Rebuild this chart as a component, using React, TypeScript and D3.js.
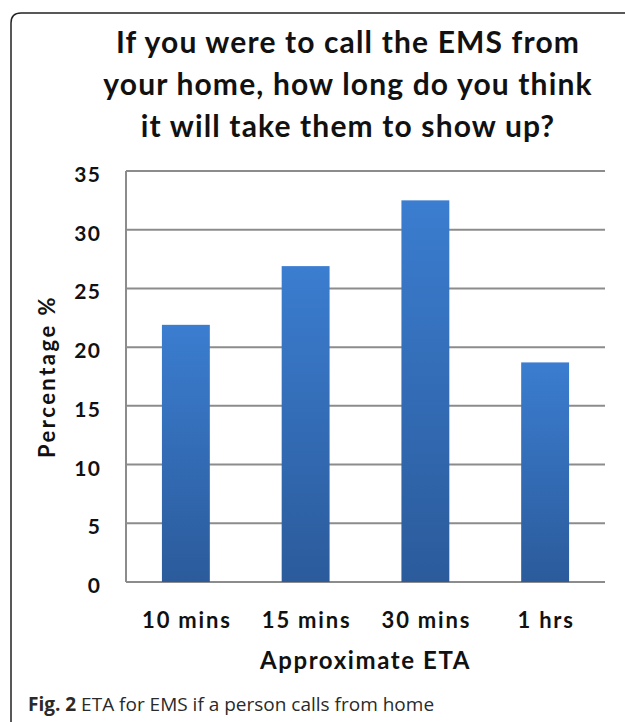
import { useEffect, useRef } from 'react'
import * as d3 from 'd3'

const categories = ['10 mins', '15 mins', '30 mins', '1 hrs']
const percentages = [21.9, 26.9, 32.5, 18.7]
const yTicks = [0, 5, 10, 15, 20, 25, 30, 35]
const titleLines = [
    'If you were to call the EMS from',
    'your home, how long do you think',
    'it will take them to show up?',
]

const W = 625
const H = 722

export default function App() {
    const ref = useRef<SVGSVGElement>(null)

    useEffect(() => {
        draw()
    })

    const draw = () => {
        const svg = d3.select(ref.current)
        svg.selectAll('*').remove()

        const left = 126, right = 605, top = 171, bottom = 582
        const font = 'Lato, "Open Sans", sans-serif'

        // frame (runs off the right and bottom edges like the scan)
        svg.append('path')
            .attr('d', `M${W + 5},13 H21 Q11,13 11,23 V${H + 10}`)
            .attr('fill', 'none')
            .attr('stroke', '#222')
            .attr('stroke-width', 1.5)

        const defs = svg.append('defs')
        const grad = defs.append('linearGradient')
            .attr('id', 'barGrad')
            .attr('x1', 0).attr('y1', 0).attr('x2', 0).attr('y2', 1)
        grad.append('stop').attr('offset', '0%').attr('stop-color', '#3b7dd0')
        grad.append('stop').attr('offset', '100%').attr('stop-color', '#2b5b9b')

        // title
        svg.append('g').selectAll('text')
            .data(titleLines)
            .enter()
            .append('text')
            .attr('x', 348)
            .attr('y', (d, i) => 53 + i * 42)
            .attr('text-anchor', 'middle')
            .attr('font-family', font)
            .attr('font-weight', 'bold')
            .attr('font-size', 30)
            .attr('letter-spacing', 1.15)
            .attr('fill', '#111')
            .text(d => d)

        const x = d3.scaleBand()
            .domain(categories)
            .range([left, right])
            .paddingInner(0.6)
            .paddingOuter(0.3)
        const y = d3.scaleLinear()
            .domain([0, 35])
            .range([bottom, top])

        // grid
        svg.append('g').selectAll('line')
            .data(yTicks)
            .enter()
            .append('line')
            .attr('x1', left).attr('x2', right)
            .attr('y1', d => y(d)).attr('y2', d => y(d))
            .attr('stroke', '#8c8c8c')
            .attr('stroke-width', 2)

        svg.append('line')
            .attr('x1', left).attr('x2', left)
            .attr('y1', top).attr('y2', bottom)
            .attr('stroke', '#8c8c8c')
            .attr('stroke-width', 2)

        // bars
        svg.append('g').selectAll('rect')
            .data(percentages)
            .enter()
            .append('rect')
            .attr('x', (d, i) => x(categories[i]))
            .attr('y', d => y(d))
            .attr('width', x.bandwidth())
            .attr('height', d => bottom - y(d))
            .attr('fill', 'url(#barGrad)')

        // y tick labels
        svg.append('g').selectAll('text')
            .data(yTicks)
            .enter()
            .append('text')
            .attr('x', 101.5)
            .attr('y', d => y(d) + 11)
            .attr('text-anchor', 'end')
            .attr('font-family', font)
            .attr('font-weight', 'bold')
            .attr('font-size', 21)
            .attr('letter-spacing', 1.5)
            .attr('fill', '#111')
            .text(d => d)

        // x tick labels
        svg.append('g').selectAll('text')
            .data(categories)
            .enter()
            .append('text')
            .attr('x', d => x(d) + x.bandwidth() / 2 + 1)
            .attr('y', 628)
            .attr('text-anchor', 'middle')
            .attr('font-family', font)
            .attr('font-weight', 'bold')
            .attr('font-size', 22)
            .attr('letter-spacing', 1.8)
            .attr('fill', '#111')
            .text(d => d)

        svg.append('text')
            .attr('x', (left + right) / 2)
            .attr('y', 669)
            .attr('text-anchor', 'middle')
            .attr('font-family', font)
            .attr('font-weight', 'bold')
            .attr('font-size', 24)
            .attr('letter-spacing', 1.6)
            .attr('fill', '#111')
            .text('Approximate ETA')

        svg.append('text')
            .attr('transform', `translate(55,${(top + bottom) / 2}) rotate(-90)`)
            .attr('text-anchor', 'middle')
            .attr('font-family', font)
            .attr('font-weight', 'bold')
            .attr('font-size', 22)
            .attr('letter-spacing', 2.5)
            .attr('fill', '#111')
            .text('Percentage %')

        // caption
        const cap = svg.append('text')
            .attr('x', 28)
            .attr('y', 711)
            .attr('font-family', '"Open Sans", sans-serif')
            .attr('font-size', 19)
            .attr('fill', '#2a2a2a')
        cap.append('tspan').attr('font-weight', 'bold').text('Fig. 2')
        cap.append('tspan').text(' ETA for EMS if a person calls from home')
    }

    return (
        <svg ref={ref} width={W} height={H}
             style={{ position: 'absolute', left: 0, top: 0, background: 'white' }} />
    )
}
